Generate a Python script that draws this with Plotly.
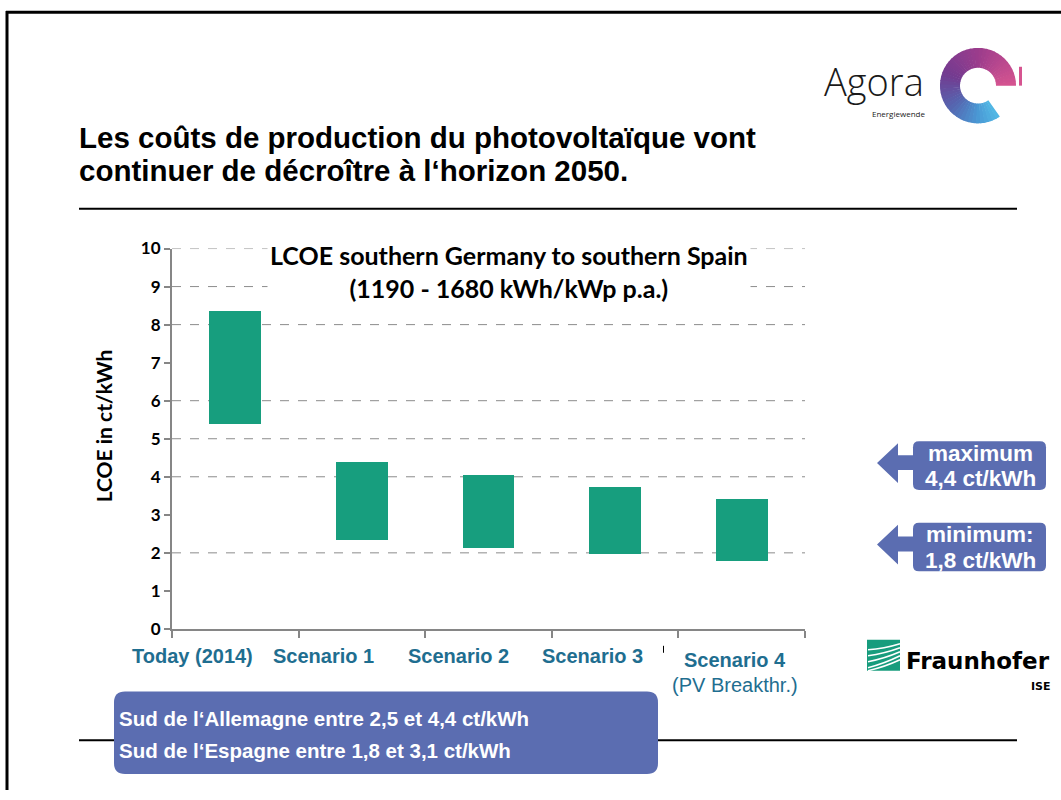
import math
import plotly.graph_objects as go

# ---- data -------------------------------------------------------------
categories = ["Today (2014)", "Scenario 1", "Scenario 2", "Scenario 3", "Scenario 4"]
category_notes = ["", "", "", "", "(PV Breakthr.)"]
lcoe_low = [5.4, 2.35, 2.15, 1.97, 1.8]      # ct/kWh, southern Spain end of range
lcoe_high = [8.37, 4.4, 4.06, 3.75, 3.43]    # ct/kWh, southern Germany end of range
y_tick_values = [0, 1, 2, 3, 4, 5, 6, 7, 8, 9, 10]
grid_levels = [2, 4, 5, 6, 8, 9, 10]

chart_title = "LCOE southern Germany to southern Spain<br>(1190 - 1680 kWh/kWp p.a.)"
y_title = "LCOE in ct/kWh"
slide_title = ["Les coûts de production du photovoltaïque vont",
               "continuer de décroître à l\u2018horizon 2050."]
callouts = [(["maximum", "4,4 ct/kWh"], 441), (["minimum:", "1,8 ct/kWh"], 523)]
summary_lines = ["Sud de l\u2018Allemagne entre 2,5 et 4,4 ct/kWh",
                 "Sud de l\u2018Espagne entre 1,8 et 3,1 ct/kWh"]

# ---- page geometry helpers (pixels -> paper) --------------------------
W, H = 1061, 800


def px(x):
    return x / W


def py(y):
    # vertical pixel positions on the page, offset for the page's top margin
    yy = y * (H + 16) / H - 8
    return 1 - yy / H


BLUE = "#5b6db1"
GREEN = "#179e7e"
LABEL = "#1f6e90"
AXIS = "#868686"

fig = go.Figure(
    go.Bar(
        x=list(range(len(categories))),
        y=[h - l for h, l in zip(lcoe_high, lcoe_low)],
        base=lcoe_low,
        width=0.41,
        marker=dict(color=GREEN, line=dict(width=0)),
        hoverinfo="skip",
    )
)

shapes = []
annotations = []

# dashed horizontal guides
for g in grid_levels:
    shapes.append(dict(type="line", xref="x domain", yref="y", x0=0, x1=1, y0=g, y1=g,
                       line=dict(color="#8c8c8c", width=1, dash="dash"), layer="below"))

# slide frame and rules
shapes.append(dict(type="line", xref="paper", yref="paper", x0=px(6), x1=px(1061), y0=0.9985, y1=0.9985,
                   line=dict(color="black", width=3)))
shapes.append(dict(type="line", xref="paper", yref="paper", x0=px(7), x1=px(7), y0=1.0, y1=0,
                   line=dict(color="black", width=3)))
shapes.append(dict(type="line", xref="paper", yref="paper", x0=px(79), x1=px(1017), y0=py(207), y1=py(207),
                   line=dict(color="black", width=2)))
shapes.append(dict(type="line", xref="paper", yref="paper", x0=px(79), x1=px(1017), y0=py(742), y1=py(742),
                   line=dict(color="black", width=2)))


def rounded_rect(x0, y0, x1, y1, r):
    pts = [
        f"M {px(x0 + r)},{py(y0)}",
        f"L {px(x1 - r)},{py(y0)}",
        f"Q {px(x1)},{py(y0)} {px(x1)},{py(y0 + r)}",
        f"L {px(x1)},{py(y1 - r)}",
        f"Q {px(x1)},{py(y1)} {px(x1 - r)},{py(y1)}",
        f"L {px(x0 + r)},{py(y1)}",
        f"Q {px(x0)},{py(y1)} {px(x0)},{py(y1 - r)}",
        f"L {px(x0)},{py(y0 + r)}",
        f"Q {px(x0)},{py(y0)} {px(x0 + r)},{py(y0)}",
        "Z",
    ]
    return " ".join(pts)


# summary box
shapes.append(dict(type="path", xref="paper", yref="paper", path=rounded_rect(114, 693, 658, 776, 11),
                   fillcolor=BLUE, line=dict(width=0)))
for i, line in enumerate(summary_lines):
    annotations.append(dict(xref="paper", yref="paper", x=px(117), y=py(720 + 32 * i), xanchor="left",
                            yanchor="middle", text=line, showarrow=False,
                            font=dict(family="Liberation Sans", size=20.5, color="white", weight="bold")))

# arrow callouts on the right
for lines, top in callouts:
    shapes.append(dict(type="path", xref="paper", yref="paper", path=rounded_rect(913, top, 1046, top + 49, 6),
                       fillcolor=BLUE, line=dict(width=0)))
    mid = top + 22
    arrow = (f"M {px(877)},{py(mid)} L {px(898)},{py(mid - 20)} L {px(898)},{py(mid - 8)} "
             f"L {px(915)},{py(mid - 8)} L {px(915)},{py(mid + 7)} L {px(898)},{py(mid + 7)} "
             f"L {px(898)},{py(mid + 20)} Z")
    shapes.append(dict(type="path", xref="paper", yref="paper", path=arrow, fillcolor=BLUE, line=dict(width=0)))
    for j, line in enumerate(lines):
        annotations.append(dict(xref="paper", yref="paper", x=px(980), y=py(top + 12 + 26 * j),
                                xanchor="center", yanchor="middle", text=line, showarrow=False,
                                font=dict(family="Liberation Sans", size=22.5, color="white", weight="bold")))

# ---- Agora logo --------------------------------------------------------
def hex_to_rgb(h):
    h = h.lstrip("#")
    return tuple(int(h[i:i + 2], 16) for i in (0, 2, 4))


ring_stops = [(0, "#d65490"), (90, "#9c3c8c"), (160, "#733b90"), (220, "#5566b0"), (270, "#4a98d4"),
              (305, "#52b9e6")]


def ring_color(a):
    for (a0, c0), (a1, c1) in zip(ring_stops[:-1], ring_stops[1:]):
        if a0 <= a <= a1:
            t = (a - a0) / (a1 - a0)
            r0, r1 = hex_to_rgb(c0), hex_to_rgb(c1)
            return "rgb({},{},{})".format(*[round(u + (v - u) * t) for u, v in zip(r0, r1)])
    return ring_stops[-1][1]


cx, cy, R_out, R_in = 978, 83, 38, 18
n_seg = 48
span = 305
for k in range(n_seg):
    a0 = span * k / n_seg
    a1 = min(span, span * (k + 1) / n_seg + 1.2)
    steps = 4
    outer = [(cx + R_out * math.cos(math.radians(a0 + (a1 - a0) * s / steps)),
              cy - R_out * math.sin(math.radians(a0 + (a1 - a0) * s / steps))) for s in range(steps + 1)]
    inner = [(cx + R_in * math.cos(math.radians(a1 - (a1 - a0) * s / steps)),
              cy - R_in * math.sin(math.radians(a1 - (a1 - a0) * s / steps))) for s in range(steps + 1)]
    pts = outer + inner
    path = "M " + " L ".join(f"{px(x)},{py(y)}" for x, y in pts) + " Z"
    shapes.append(dict(type="path", xref="paper", yref="paper", path=path,
                       fillcolor=ring_color((a0 + a1) / 2), line=dict(width=0)))
shapes.append(dict(type="rect", xref="paper", yref="paper", x0=px(1019), x1=px(1022), y0=py(64), y1=py(83),
                   fillcolor="#d65490", line=dict(width=0)))
annotations.append(dict(xref="paper", yref="paper", x=px(874), y=py(78), xanchor="center", yanchor="middle",
                        text="Agora", showarrow=False,
                        font=dict(family="Open Sans", size=38, color="#1a1a1a", weight=300)))
annotations.append(dict(xref="paper", yref="paper", x=px(898), y=py(111), xanchor="center", yanchor="middle",
                        text="Energiewende", showarrow=False,
                        font=dict(family="Open Sans", size=8, color="#1a1a1a")))

# ---- Fraunhofer logo ---------------------------------------------------
shapes.append(dict(type="rect", xref="paper", yref="paper", x0=px(867), x1=px(900), y0=py(641), y1=py(672),
                   fillcolor="#179c7d", line=dict(width=0)))
for k, (y_left, y_right) in enumerate([(651, 645), (657, 649), (663, 653), (669, 657), (672, 661)]):
    shapes.append(dict(type="path", xref="paper", yref="paper",
                       path=f"M {px(868)},{py(y_left)} Q {px(884)},{py((y_left + y_right) / 2 + 2)} {px(900)},{py(y_right)}",
                       line=dict(color="white", width=1.6)))
annotations.append(dict(xref="paper", yref="paper", x=px(904), y=py(662), xanchor="left", yanchor="middle",
                        text="Fraunhofer", showarrow=False,
                        font=dict(family="DejaVu Sans", size=23, color="black", weight="bold")))
annotations.append(dict(xref="paper", yref="paper", x=px(1053), y=py(688), xanchor="right", yanchor="middle",
                        text="ISE", showarrow=False,
                        font=dict(family="DejaVu Sans", size=11, color="black", weight="bold")))

# ---- slide title -------------------------------------------------------
for i, line in enumerate(slide_title):
    annotations.append(dict(xref="paper", yref="paper", x=px(77), y=py(135 + 33 * i), xanchor="left",
                            yanchor="middle", text=line, showarrow=False,
                            font=dict(family="Liberation Sans", size=29.5, color="black", weight="bold")))

# ---- chart title and axis title ---------------------------------------
annotations.append(dict(xref="paper", yref="paper", x=px(509), y=py(270), xanchor="center", yanchor="middle",
                        text=chart_title, showarrow=False, bgcolor="white", borderpad=2,
                        font=dict(family="Lato", size=25, color="black", weight="bold")))
annotations.append(dict(xref="paper", yref="paper", x=px(103), y=py(426), xanchor="center", yanchor="middle",
                        text=y_title, showarrow=False, textangle=-90,
                        font=dict(family="Lato", size=21, color="black", weight="bold")))

# ---- category labels under the axis -----------------------------------
label_shift = [-0.34, -0.30, -0.24, -0.18, -0.05]
for i, (name, note) in enumerate(zip(categories, category_notes)):
    y_pix = 657 if not note else 661
    annotations.append(dict(xref="x", yref="paper", x=i + label_shift[i], y=py(y_pix), xanchor="center",
                            yanchor="middle", text=name, showarrow=False,
                            font=dict(family="Liberation Sans", size=20, color=LABEL, weight="bold")))
    if note:
        annotations.append(dict(xref="x", yref="paper", x=i + label_shift[i], y=py(686), xanchor="center",
                                yanchor="middle", text=note, showarrow=False,
                                font=dict(family="Liberation Sans", size=20, color=LABEL)))
shapes.append(dict(type="line", xref="paper", yref="paper", x0=px(663.5), x1=px(663.5), y0=py(647), y1=py(654),
                   line=dict(color="black", width=1)))

fig.update_layout(
    width=W,
    height=H,
    margin=dict(l=0, r=0, t=0, b=0),
    paper_bgcolor="white",
    plot_bgcolor="white",
    showlegend=False,
    bargap=0,
    shapes=shapes,
    annotations=annotations,
    xaxis=dict(
        domain=[px(172), px(805)],
        range=[-0.5, len(categories) - 0.5],
        tickvals=[i - 0.5 for i in range(len(categories) + 1)],
        showticklabels=False,
        ticks="outside",
        ticklen=7,
        tickwidth=2,
        tickcolor=AXIS,
        showline=True,
        linecolor=AXIS,
        linewidth=2,
        showgrid=False,
        zeroline=False,
        fixedrange=True,
    ),
    yaxis=dict(
        domain=[py(630), py(247)],
        range=[0, 10],
        tickvals=y_tick_values,
        ticks="outside",
        ticklen=6,
        tickwidth=2,
        tickcolor=AXIS,
        showline=True,
        linecolor=AXIS,
        linewidth=2,
        showgrid=False,
        zeroline=False,
        tickfont=dict(family="Lato", size=17, color="black", weight="bold"),
        fixedrange=True,
    ),
)

fig.write_html("out.html")
